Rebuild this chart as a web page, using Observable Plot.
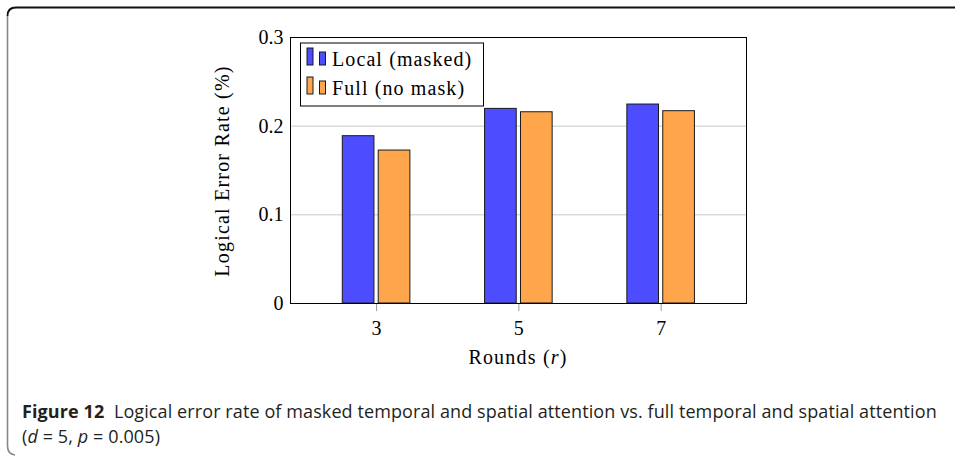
<!DOCTYPE html>
<html><head><meta charset="utf-8">
<script src="https://cdn.jsdelivr.net/npm/d3@7"></script>
<script src="https://cdn.jsdelivr.net/npm/@observablehq/plot@0.6"></script>
<style>
body{margin:0;background:#fff;width:955px;height:465px;position:relative;overflow:hidden}
#chart{position:absolute;left:0;top:0}
#border{position:absolute;left:0;top:0}
#caption{position:absolute;left:22px;top:399px;font-family:"Open Sans";font-size:18px;color:#231f20;line-height:25px;white-space:nowrap;letter-spacing:0.1px}
#caption b{font-weight:700}
</style></head><body>
<svg id="border" width="955" height="465"><path d="M955,7.5 L16,7.5 Q7.5,7.5 7.5,16" fill="none" stroke="#111" stroke-width="1.8"/><path d="M7.5,16 L7.5,446 Q7.5,454 15,455" fill="none" stroke="#888" stroke-width="1.6"/></svg>
<div id="chart"></div>
<div id="caption"><b>Figure 12</b>&nbsp; Logical error rate of masked temporal and spatial attention vs. full temporal and spatial attention<br>(<i>d</i> = 5, <i>p</i> = 0.005)</div>
<script>
const rounds = [3, 5, 7];
const series = ["Local (masked)", "Full (no mask)"];
const localVals = [0.1887, 0.2195, 0.2244];
const fullVals = [0.1725, 0.2157, 0.2169];
const colors = ["#4d4dff", "#ffa64d"];
const yTicks = [0, 0.1, 0.2, 0.3];
const gridTicks = [0.1, 0.2];

const data = rounds.flatMap((r, i) => [
  {r, series: series[0], v: localVals[i], k: 0},
  {r, series: series[1], v: fullVals[i], k: 1}
]);
const halfGap = 0.03, barW = 0.445;

const chart = Plot.plot({
  width: 955, height: 375,
  marginLeft: 290, marginRight: 209, marginTop: 37, marginBottom: 72,
  style: {fontFamily: "Liberation Serif", fontSize: "20px", background: "transparent", color: "#000"},
  x: {type: "linear", domain: [1.79, 8.2]},
  y: {domain: [0, 0.3]},
  color: {domain: series, range: colors},
  marks: [
    Plot.ruleY(gridTicks, {stroke: "#c8c8c8", strokeWidth: 1}),
    Plot.rectY(data, {
      x1: d => d.k ? d.r + halfGap : d.r - halfGap - barW,
      x2: d => d.k ? d.r + halfGap + barW : d.r - halfGap,
      y1: 0, y2: "v", fill: "series", stroke: "#1a1a1a", strokeWidth: 1
    }),
    Plot.axisX({ticks: rounds, tickSize: 8, tickPadding: 9, stroke: "#999", tickFormat: d => String(d), label: null}),
    Plot.axisY({ticks: yTicks, tickSize: 0, tickPadding: 7, tickFormat: d => d === 0 ? "0" : d.toFixed(1), label: null}),
    Plot.frame({stroke: "#000", strokeWidth: 1})
  ]
});
document.getElementById("chart").appendChild(chart);

const svg = d3.select(chart);
const font = "Liberation Serif";
// y label
svg.append("text").attr("transform", "translate(229,171) rotate(-90)")
  .attr("text-anchor", "middle").attr("font-family", font).attr("font-size", 20)
  .attr("letter-spacing", 1.2)
  .text("Logical Error Rate (%)");
// x label
const xl = svg.append("text").attr("x", 518).attr("y", 364)
  .attr("text-anchor", "middle").attr("font-family", font).attr("font-size", 20)
  .attr("letter-spacing", 1.2);
xl.append("tspan").text("Rounds (");
xl.append("tspan").attr("font-style", "italic").text("r");
xl.append("tspan").text(")");
// legend
const lg = svg.append("g").attr("text-anchor", "start");
lg.append("rect").attr("x", 300.5).attr("y", 43).attr("width", 183).attr("height", 63)
  .attr("fill", "#fff").attr("stroke", "#000").attr("stroke-width", 1);
series.forEach((s, i) => {
  const y0 = 48 + i * 29;
  lg.append("rect").attr("x", 307).attr("y", y0).attr("width", 6).attr("height", 17)
    .attr("fill", colors[i]).attr("stroke", "#1a1a1a").attr("stroke-width", 1);
  lg.append("rect").attr("x", 319.5).attr("y", y0 + 4).attr("width", 6).attr("height", 13)
    .attr("fill", colors[i]).attr("stroke", "#1a1a1a").attr("stroke-width", 1);
  lg.append("text").attr("x", 332).attr("y", y0 + 18).attr("font-family", font).attr("font-size", 20)
    .attr("letter-spacing", 1.1).attr("text-anchor", "start")
    .text(s);
});
</script>
</body></html>
